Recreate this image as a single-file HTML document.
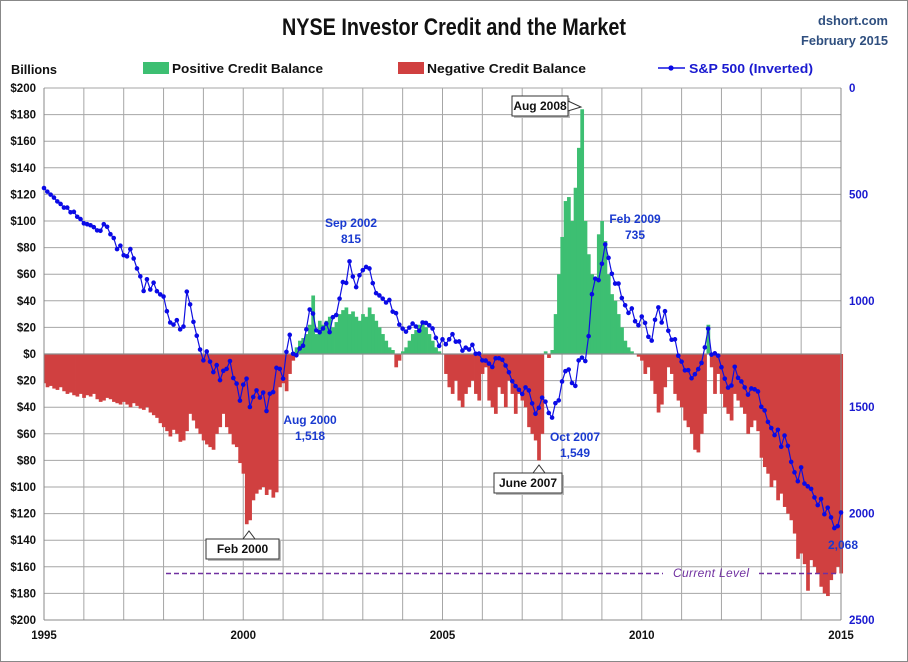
<!DOCTYPE html>
<html><head><meta charset="utf-8"><style>
body{margin:0;background:#fff;}
#wrap{position:relative;width:906px;height:660px;border:1px solid #888;background:#fff;font-family:"Liberation Sans",sans-serif;overflow:hidden}
svg text{font-family:"Liberation Sans",sans-serif}
</style></head><body>
<div id="wrap">
<svg id="chart" width="906" height="660"></svg>
</div>
<script>
const years = [1995,2000,2005,2010,2015];
const leftTicks = [200,180,160,140,120,100,80,60,40,20,0,-20,-40,-60,-80,-100,-120,-140,-160,-180,-200];
const rightTicks = [0,500,1000,1500,2000,2500];
const credit = [
-22,-25,-24,-26,-27,-25,-28,-30,-29,-31,-32,-30,
-33,-31,-32,-30,-34,-36,-35,-33,-34,-36,-37,-38,
-36,-38,-40,-37,-39,-41,-42,-40,-44,-46,-48,-52,
-55,-58,-62,-57,-60,-66,-65,-58,-45,-50,-56,-60,
-65,-68,-70,-72,-60,-55,-45,-55,-60,-68,-70,-82,
-90,-128,-125,-110,-105,-102,-100,-106,-102,-108,-104,-25,
-22,-28,-15,-5,5,10,12,15,22,44,15,25,
22,25,28,20,24,30,33,35,30,32,28,25,
30,28,35,30,25,20,15,10,5,3,-10,-5,
2,5,10,15,18,22,25,20,15,10,5,2,
0,-15,-25,-30,-20,-35,-40,-30,-25,-20,-30,-35,
-15,-10,-35,-40,-45,-25,-30,-40,-20,-30,-45,-30,
-35,-40,-55,-60,-65,-80,-60,2,-3,3,30,60,
88,115,118,100,125,155,184,100,75,60,56,90,
100,85,60,45,40,30,20,10,5,2,0,-2,
-5,-15,-10,-20,-30,-44,-38,-25,-10,-15,-30,-35,
-40,-50,-55,-60,-72,-74,-60,-45,22,-10,-30,-15,
-30,-40,-45,-50,-30,-35,-40,-45,-60,-55,-50,-58,
-78,-85,-90,-100,-95,-110,-105,-115,-120,-125,-135,-154,
-150,-158,-178,-155,-160,-165,-175,-180,-182,-170,-165,-160,
-165];
const spx = [
470,487,501,515,533,545,562,562,584,582,605,616,
636,640,645,654,669,671,640,652,687,705,757,741,
786,791,757,801,848,885,954,899,947,915,955,970,
980,1049,1102,1112,1091,1134,1121,957,1017,1099,1164,1229,
1280,1238,1286,1335,1302,1373,1329,1320,1283,1363,1389,1469,
1394,1366,1499,1452,1421,1455,1431,1518,1437,1429,1315,1320,
1366,1240,1160,1249,1256,1224,1211,1134,1041,1060,1139,1148,
1130,1107,1147,1077,1067,990,912,916,815,886,936,880,
856,841,848,917,964,975,990,1008,996,1051,1058,1112,
1131,1145,1126,1107,1121,1141,1102,1104,1115,1130,1174,1212,
1181,1204,1181,1157,1192,1191,1234,1220,1229,1207,1249,1248,
1280,1281,1295,1311,1270,1270,1277,1304,1336,1378,1401,1418,
1438,1407,1421,1482,1531,1503,1455,1474,1527,1549,1481,1468,
1379,1331,1323,1386,1400,1280,1267,1283,1166,969,896,903,
826,735,798,873,919,919,987,1021,1057,1036,1096,1115,
1074,1104,1169,1187,1089,1031,1102,1049,1141,1183,1181,1258,
1286,1327,1326,1364,1345,1321,1292,1219,1131,1253,1247,1258,
1312,1366,1408,1398,1310,1362,1379,1407,1441,1412,1416,1426,
1498,1515,1569,1598,1631,1606,1686,1633,1682,1757,1806,1848,
1783,1859,1872,1884,1924,1960,1931,2003,1972,2018,2068,2059,
1995];
const currentLevel = -165;

const NS="http://www.w3.org/2000/svg";
const svg=document.getElementById('chart');
const X0=43,X1=840,YT=87,YB=619;
const xT=t=>X0+(t-1995)/20*(X1-X0);
const xM=i=>xT(1995+i/12);
const yL=v=>YT+(200-v)/400*(YB-YT);
const yR=v=>YT+v/2500*(YB-YT);
function mk(tag,attrs,parent){const e=document.createElementNS(NS,tag);for(const k in attrs)e.setAttribute(k,attrs[k]);(parent||svg).appendChild(e);return e;}
function txt(x,y,s,attrs,parent){const e=mk('text',Object.assign({x:x,y:y},attrs),parent);e.textContent=s;return e;}

const grid=mk('g',{});


for(let y=1995;y<=2015;y+=1){mk('line',{x1:xT(y),x2:xT(y),y1:YT,y2:YB,stroke:'#a6a6a6','stroke-width':1},grid);}
leftTicks.forEach(v=>{mk('line',{x1:X0,x2:X1,y1:yL(v),y2:yL(v),stroke:'#a6a6a6','stroke-width':1},grid);});

const bars=mk('g',{});


const bw=(X1-X0)/240;
credit.forEach((v,i)=>{
  const x=xM(i)-bw/2+(i===0?bw/2:0);
  const y0=yL(0),y1=yL(v);
  const r=mk('rect',{x:x,y:Math.min(y0,y1),width:bw+0.4,height:Math.abs(y1-y0),fill:v>=0?'#3dbf72':'#d04040'},bars);
  
  
});
mk('line',{x1:X0,x2:X1,y1:yL(0),y2:yL(0),stroke:'#8c8c8c','stroke-width':1.2});

mk('line',{x1:X0,x2:X0,y1:YT,y2:YB,stroke:'#888'});
mk('line',{x1:X1,x2:X1,y1:YT,y2:YB,stroke:'#888'});
mk('line',{x1:X0,x2:X1,y1:YB,y2:YB,stroke:'#888'});

let d='';
spx.forEach((v,i)=>{d+=(i?'L':'M')+xM(i).toFixed(1)+','+yR(v).toFixed(1);});
const ln=mk('path',{d:d,fill:'none',stroke:'#1010e0','stroke-width':1.2});


const pts=mk('g',{fill:'#0a0ae6'});
spx.forEach((v,i)=>{
  const c=mk('circle',{cx:xM(i),cy:yR(v),r:2.3},pts);
  
  
});

const cl=mk('line',{x1:165,x2:662,y1:yL(currentLevel),y2:yL(currentLevel),stroke:'#7030a0','stroke-width':1.5,'stroke-dasharray':'5,3'});


mk('line',{x1:758,x2:838,y1:yL(currentLevel),y2:yL(currentLevel),stroke:'#7030a0','stroke-width':1.5,'stroke-dasharray':'5,3'});
const clt=txt(710,576,'Current Level',{fill:'#7030a0','font-size':12,'font-style':'italic','text-anchor':'middle',textLength:76});



leftTicks.forEach(v=>{const t=txt(35,yL(v)+4,'$'+Math.abs(v),{'font-size':11.5,'font-weight':'bold','text-anchor':'end',fill:'#111'});});
rightTicks.forEach(v=>{const t=txt(848,yR(v)+4,String(v),{'font-size':11.5,'font-weight':'bold',fill:'#1a1ad0'});});
years.forEach(y=>{const t=txt(xT(y),638,String(y),{'font-size':11.5,'font-weight':'bold','text-anchor':'middle',fill:'#111'});});

const ti=txt(453,34,'NYSE Investor Credit and the Market',{'font-size':24,'font-weight':'bold','text-anchor':'middle',fill:'#111',textLength:344,lengthAdjust:'spacingAndGlyphs'});

const s1=txt(887,24,'dshort.com',{'font-size':13,'font-weight':'bold','text-anchor':'end',fill:'#2f4f7f',textLength:70,lengthAdjust:'spacingAndGlyphs'});

const s2=txt(887,44,'February 2015',{'font-size':13,'font-weight':'bold','text-anchor':'end',fill:'#2f4f7f',textLength:87,lengthAdjust:'spacingAndGlyphs'});

const bl=txt(10,73,'Billions',{'font-size':13,'font-weight':'bold',fill:'#111',textLength:46,lengthAdjust:'spacingAndGlyphs'});


const lg=mk('g',{});

mk('rect',{x:142,y:61,width:26,height:12,fill:'#3dbf72'},lg);
txt(171,72,'Positive Credit Balance',{'font-size':13,'font-weight':'bold',fill:'#111',textLength:151,lengthAdjust:'spacingAndGlyphs'},lg);
mk('rect',{x:397,y:61,width:26,height:12,fill:'#d04040'},lg);
txt(426,72,'Negative Credit Balance',{'font-size':13,'font-weight':'bold',fill:'#111',textLength:159,lengthAdjust:'spacingAndGlyphs'},lg);
mk('line',{x1:657,x2:684,y1:67,y2:67,stroke:'#1010e0','stroke-width':1.5},lg);
mk('circle',{cx:670,cy:67,r:2.6,fill:'#0a0ae6'},lg);
txt(688,72,'S&P 500 (Inverted)',{'font-size':13,'font-weight':'bold',fill:'#1a1ad0',textLength:124,lengthAdjust:'spacingAndGlyphs'},lg);

function blueLabel(x,y,l1,l2,name){const g=mk('g',{});
 txt(x,y,l1,{'font-size':12,'font-weight':'bold','text-anchor':'middle',fill:'#1a3ad0'},g);
 if(l2)txt(x,y+16,l2,{'font-size':12,'font-weight':'bold','text-anchor':'middle',fill:'#1a3ad0'},g);}
blueLabel(350,226,'Sep 2002','815','sep-2002-label');
blueLabel(309,423,'Aug 2000','1,518','aug-2000-label');
blueLabel(574,440,'Oct 2007','1,549','oct-2007-label');
blueLabel(634,222,'Feb 2009','735','feb-2009-label');
blueLabel(842,548,'2,068',null,'latest-sp-label');
function callout(x,y,w,s,name,px){const g=mk('g',{});
 mk('rect',{x:x+2,y:y+2,width:w,height:20,fill:'#bbb'},g);
 mk('rect',{x:x,y:y,width:w,height:20,fill:'#fff',stroke:'#333'},g);
 if(px)mk('polygon',{points:px,fill:'#fff',stroke:'#333'},g);
 txt(x+w/2,y+14,s,{'font-size':12,'font-weight':'bold','text-anchor':'middle',fill:'#111'},g);}
callout(511,95,56,'Aug 2008','aug-2008-callout','567,100 580,106 567,110');
callout(205,538,73,'Feb 2000','feb-2000-callout','242,538 248,530 254,538');
callout(493,472,68,'June 2007','june-2007-callout','532,472 538,464 544,472');
</script>
</body></html>
